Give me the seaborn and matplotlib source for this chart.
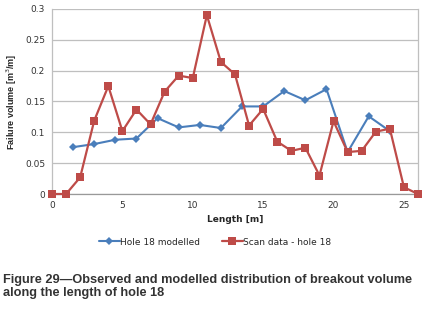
import numpy as np
import pandas as pd
import seaborn as sns
from matplotlib import pyplot as plt

# --- DATA ---
# modelled breakout volume, hole 18
model_len = [1.5, 3, 4.5, 6, 7.5, 9, 10.5, 12, 13.5, 15, 16.5, 18, 19.5, 21, 22.5, 24]
model_vol = [0.076, 0.081, 0.088, 0.090, 0.123, 0.108, 0.112, 0.107, 0.142, 0.142,
             0.167, 0.152, 0.170, 0.068, 0.126, 0.102]

# scan data, hole 18
scan_len = list(range(0, 27))
scan_vol = [0, 0, 0.027, 0.119, 0.175, 0.102, 0.137, 0.113, 0.166, 0.192, 0.188,
            0.290, 0.214, 0.194, 0.111, 0.138, 0.085, 0.070, 0.075, 0.030, 0.118,
            0.068, 0.070, 0.101, 0.106, 0.011, 0]

x_ticks = [0, 5, 10, 15, 20, 25]
y_ticks = [0, 0.05, 0.1, 0.15, 0.2, 0.25, 0.3]
y_tick_labels = ["0", "0.05", "0.1", "0.15", "0.2", "0.25", "0.3"]

blue = "#4a7ebb"
red = "#be4b48"
grid_col = "#bfbfbf"

sns.set_style("white")
plt.rcParams['font.family'] = ['DejaVu Sans']

df_model = pd.DataFrame({"length": model_len, "vol": model_vol})
df_scan = pd.DataFrame({"length": scan_len, "vol": scan_vol})

fig = plt.figure(figsize=(4.27, 3.11), dpi=100)
ax = fig.add_axes([52 / 427, 1 - 194 / 311, (418 - 52) / 427, (194 - 9) / 311])

sns.lineplot(data=df_model, x="length", y="vol", ax=ax, color=blue, lw=1.5,
             marker="D", markersize=4, markeredgewidth=0, label="Hole 18 modelled",
             clip_on=False, zorder=3)
sns.lineplot(data=df_scan, x="length", y="vol", ax=ax, color=red, lw=1.6,
             marker="s", markersize=5.8, markeredgewidth=0, label="Scan data - hole 18",
             clip_on=False, zorder=4)

ax.set_xlim(0, 26)
ax.set_ylim(0, 0.3)
ax.set_xticks(x_ticks)
ax.set_yticks(y_ticks)
ax.set_yticklabels(y_tick_labels)
ax.tick_params(axis="both", labelsize=6.5, colors="#333333", length=3, width=0.8,
               color=grid_col, pad=2)
ax.yaxis.grid(True, color=grid_col, lw=0.9)
for s in ["left", "right", "bottom"]:
    ax.spines[s].set_color(grid_col)
    ax.spines[s].set_linewidth(0.9)
ax.spines["top"].set_visible(False)
ax.spines["bottom"].set_color("#999999")

ax.set_xlabel("Length [m]", fontsize=6.5, fontweight="bold", labelpad=4)
ax.set_ylabel("Failure volume [m$^3$/m]", fontsize=6.5, fontweight="bold",
              family=["Liberation Sans Narrow", "Liberation Sans", "DejaVu Sans"], labelpad=4)

ax.legend(loc="center", bbox_to_anchor=(0.445, -0.26), ncol=2, frameon=False,
          fontsize=6.5, handlelength=2.3, handletextpad=0.0, columnspacing=2.5)

fig.text(0.006, 1 - 280 / 311, "Figure 29\u2014Observed and modelled distribution of breakout volume",
         fontsize=9.2, fontweight="bold", family=["Liberation Sans", "DejaVu Sans"],
         va="center", color="#333333")
fig.text(0.006, 1 - 293 / 311, "along the length of hole 18",
         fontsize=9.2, fontweight="bold", family=["Liberation Sans", "DejaVu Sans"],
         va="center", color="#333333")

fig.savefig("out.png", dpi=100)
